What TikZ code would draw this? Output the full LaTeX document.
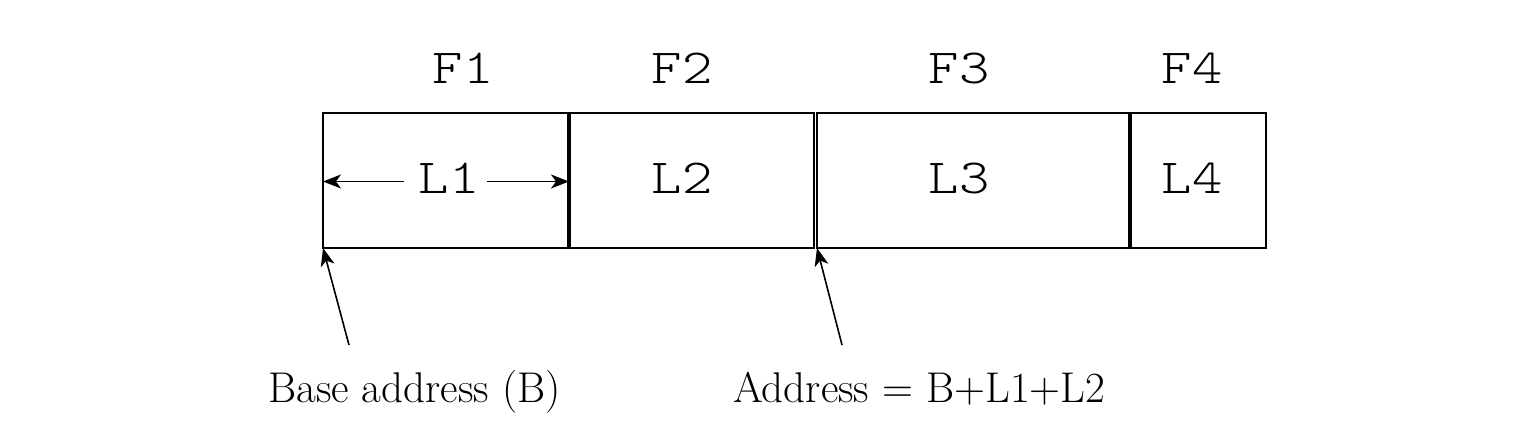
\documentclass[tikz,border=0pt]{standalone}
\usepackage{graphicx}
\usetikzlibrary{arrows.meta}
\begin{document}
\begin{tikzpicture}[x=1pt,y=-1pt,
  cell/.style={draw,line width=1.6pt,inner sep=0pt,outer sep=0pt,minimum height=135pt},
  divider/.style={line width=3.6pt},
  mono/.style={inner sep=0pt,anchor=base,font=\fontsize{49}{55}\ttfamily\fontseries{l}\selectfont},
  serif/.style={inner sep=0pt,anchor=base west,font=\fontsize{43}{50}\selectfont},
  arr/.style={line width=1.6pt,-{Stealth[length=18pt,width=14pt,inset=5pt]}}]
\useasboundingbox (0,0) rectangle (1524,444);
% cells
\node[cell,minimum width=246pt] (box1) at (446,180.5) {};
\node[cell,minimum width=245pt] (box2) at (691.5,180.5) {};
\node[cell,minimum width=313pt] (box3) at (973.5,180.5) {};
\node[cell,minimum width=136pt] (box4) at (1198,180.5) {};
\draw[divider] (box1.north east) -- (box1.south east);
\draw[divider] (box3.north east) -- (box3.south east);
% field names
\node[mono] (f1) at (463,84) {\scalebox{1.18}[1]{F1}};
\node[mono] (f2) at (682,84) {\scalebox{1.18}[1]{F2}};
\node[mono] (f3) at (959,84) {\scalebox{1.18}[1]{F3}};
\node[mono] (f4) at (1192,84) {\scalebox{1.18}[1]{F4}};
% lengths
\node[mono] (l1) at (449,193) {\scalebox{1.18}[1]{L1}};
\node[mono] (l2) at (682,193) {\scalebox{1.18}[1]{L2}};
\node[mono] (l3) at (959,193) {\scalebox{1.18}[1]{L3}};
\node[mono] (l4) at (1192,193) {\scalebox{1.18}[1]{L4}};
\coordinate (l1a) at (404,181.5);
\coordinate (l1b) at (487,181.5);
\draw[arr] (l1a) -- (box1.west |- l1a);
\draw[arr] (l1b) -- (box1.east |- l1b);
% addresses
\node[serif] (base) at (268,402) {Base address (B)};
\node[serif] (addr) at (733,402) {Address = B+L1+L2};
\coordinate (baseTail) at (349,345);
\coordinate (addrTail) at (842,345);
\draw[arr] (baseTail) -- (box1.south west);
\draw[arr] (addrTail) -- (box3.south west);
\end{tikzpicture}
\end{document}
